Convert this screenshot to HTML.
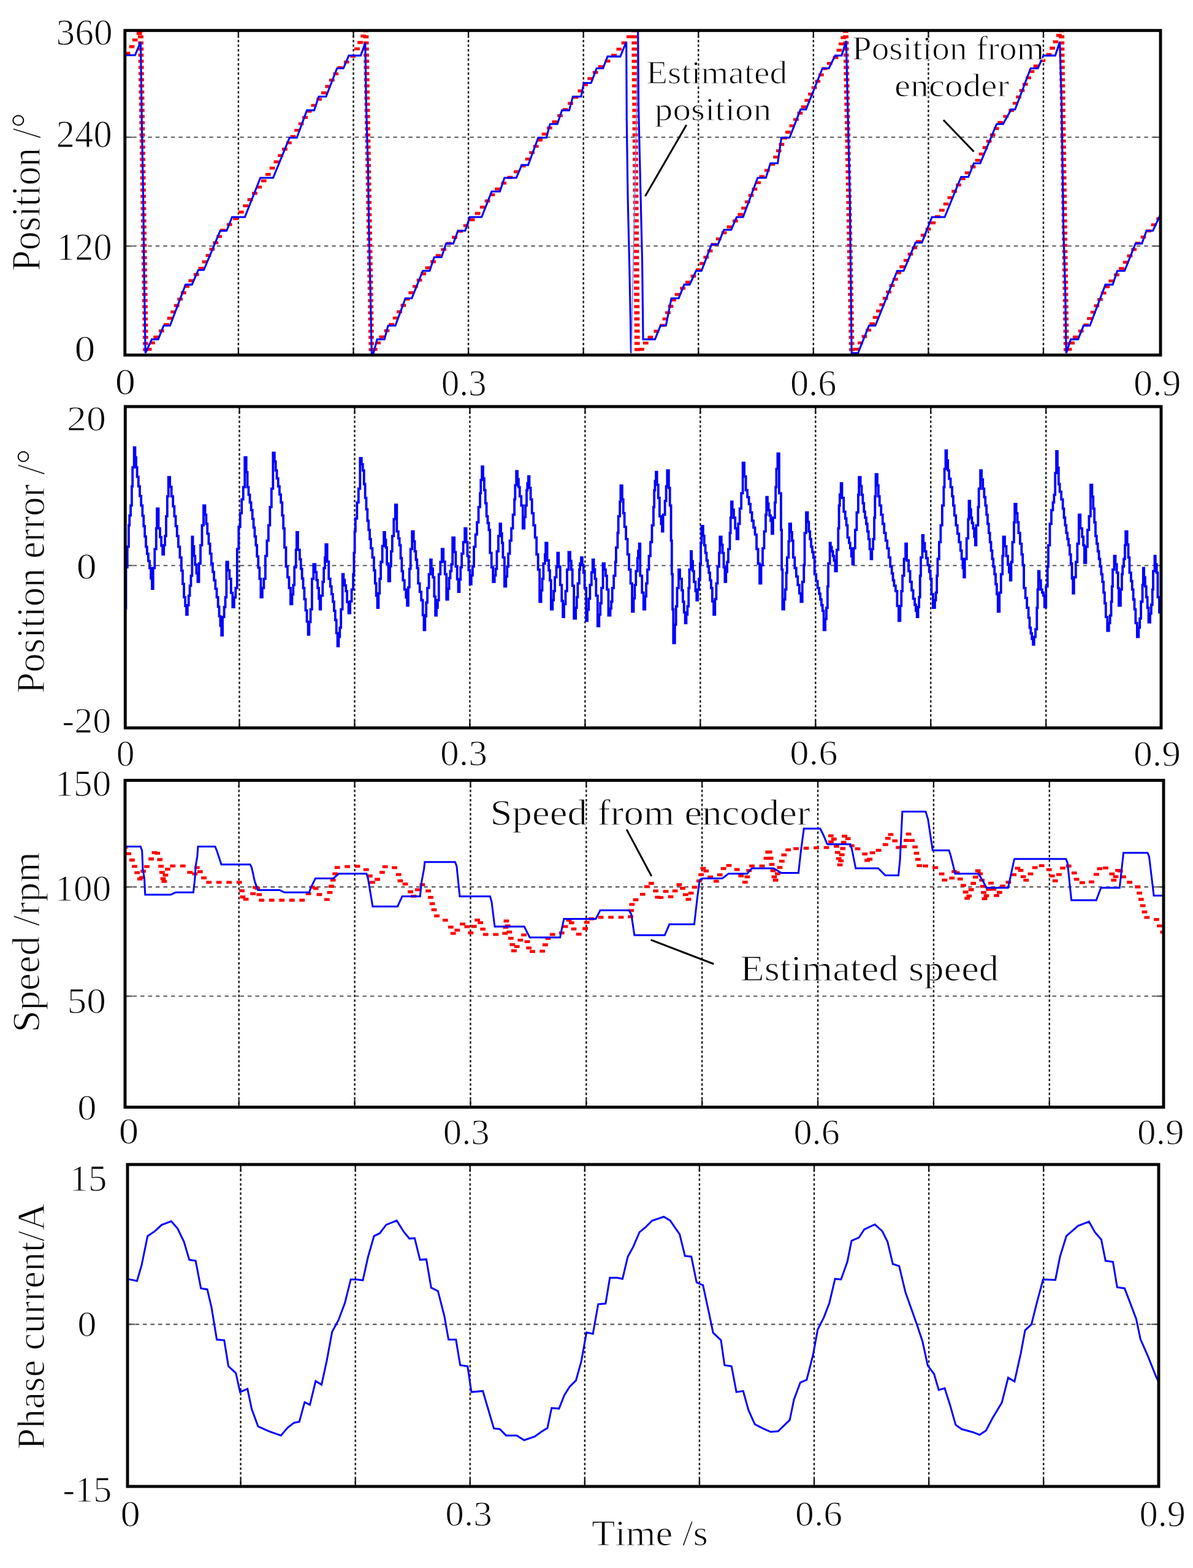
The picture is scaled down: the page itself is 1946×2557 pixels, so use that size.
<!DOCTYPE html>
<html><head><meta charset="utf-8"><title>Figure</title><style>
html,body{margin:0;padding:0;background:#fff;}
svg{display:block;}
text{font-family:"Liberation Serif",serif;font-size:100px;fill:#000;stroke:#fff;font-kerning:none;font-variant-ligatures:none;}
.gv{stroke:#1a1a1a;stroke-width:2.4;stroke-dasharray:4 3.6;fill:none;}
.tk{stroke:#111;stroke-width:2.2;}
.tkh{stroke:#555;stroke-width:2.2;}
.gh{stroke:#5a5a5a;stroke-width:2.1;stroke-dasharray:6.5 6;fill:none;}
.fr{fill:none;stroke:#000;stroke-width:4.9;}
.bl{fill:none;stroke:#0000ff;stroke-width:3.6;stroke-linejoin:miter;stroke-miterlimit:3;}
.b0{stroke-width:3.1;}.b1{stroke-width:3.8;}.b2{stroke-width:3.0;}.b3{stroke-width:3.0;}
.jp{fill:none;stroke:#7f7fff;stroke-width:1.6;}
.rdd{fill:none;stroke:#ff0000;stroke-width:4.8;}
.ld{stroke:#000;stroke-width:3;}
</style></head>
<body><svg width="1946" height="2557" viewBox="0 0 1946 2557">
<defs><clipPath id="c0"><rect x="203.8" y="49.7" width="1689.2" height="529.3"/></clipPath><clipPath id="c1"><rect x="204.3" y="663" width="1689.7" height="524"/></clipPath><clipPath id="c2"><rect x="204" y="1272.5" width="1694" height="533"/></clipPath><clipPath id="c3"><rect x="208" y="1899" width="1682" height="525"/></clipPath></defs>
<rect width="1946" height="2557" fill="#fff"/>
<line class="gv" x1="388.9" y1="49.7" x2="388.9" y2="579"/>
<line class="gv" x1="576.49" y1="49.7" x2="576.49" y2="579"/>
<line class="gv" x1="764.07" y1="49.7" x2="764.07" y2="579"/>
<line class="gv" x1="951.66" y1="49.7" x2="951.66" y2="579"/>
<line class="gv" x1="1139.24" y1="49.7" x2="1139.24" y2="579"/>
<line class="gv" x1="1326.83" y1="49.7" x2="1326.83" y2="579"/>
<line class="gv" x1="1514.41" y1="49.7" x2="1514.41" y2="579"/>
<line class="gv" x1="1702" y1="49.7" x2="1702" y2="579"/>
<line class="gh" x1="203.8" y1="223.8" x2="1893" y2="223.8"/>
<line class="gh" x1="203.8" y1="401.3" x2="1893" y2="401.3"/>
<line class="tk" x1="388.9" y1="579" x2="388.9" y2="567"/>
<line class="tk" x1="388.9" y1="49.7" x2="388.9" y2="61.7"/>
<line class="tk" x1="576.49" y1="579" x2="576.49" y2="567"/>
<line class="tk" x1="576.49" y1="49.7" x2="576.49" y2="61.7"/>
<line class="tk" x1="764.07" y1="579" x2="764.07" y2="567"/>
<line class="tk" x1="764.07" y1="49.7" x2="764.07" y2="61.7"/>
<line class="tk" x1="951.66" y1="579" x2="951.66" y2="567"/>
<line class="tk" x1="951.66" y1="49.7" x2="951.66" y2="61.7"/>
<line class="tk" x1="1139.24" y1="579" x2="1139.24" y2="567"/>
<line class="tk" x1="1139.24" y1="49.7" x2="1139.24" y2="61.7"/>
<line class="tk" x1="1326.83" y1="579" x2="1326.83" y2="567"/>
<line class="tk" x1="1326.83" y1="49.7" x2="1326.83" y2="61.7"/>
<line class="tk" x1="1514.41" y1="579" x2="1514.41" y2="567"/>
<line class="tk" x1="1514.41" y1="49.7" x2="1514.41" y2="61.7"/>
<line class="tk" x1="1702" y1="579" x2="1702" y2="567"/>
<line class="tk" x1="1702" y1="49.7" x2="1702" y2="61.7"/>
<line class="tkh" x1="203.8" y1="223.8" x2="215.8" y2="223.8"/>
<line class="tkh" x1="1893" y1="223.8" x2="1881" y2="223.8"/>
<line class="tkh" x1="203.8" y1="401.3" x2="215.8" y2="401.3"/>
<line class="tkh" x1="1893" y1="401.3" x2="1881" y2="401.3"/>
<line class="gv" x1="390.5" y1="663" x2="390.5" y2="1187"/>
<line class="gv" x1="578.46" y1="663" x2="578.46" y2="1187"/>
<line class="gv" x1="766.41" y1="663" x2="766.41" y2="1187"/>
<line class="gv" x1="954.37" y1="663" x2="954.37" y2="1187"/>
<line class="gv" x1="1142.33" y1="663" x2="1142.33" y2="1187"/>
<line class="gv" x1="1330.29" y1="663" x2="1330.29" y2="1187"/>
<line class="gv" x1="1518.24" y1="663" x2="1518.24" y2="1187"/>
<line class="gv" x1="1706.2" y1="663" x2="1706.2" y2="1187"/>
<line class="gh" x1="204.3" y1="922.2" x2="1894" y2="922.2"/>
<line class="tk" x1="390.5" y1="1187" x2="390.5" y2="1175"/>
<line class="tk" x1="390.5" y1="663" x2="390.5" y2="675"/>
<line class="tk" x1="578.46" y1="1187" x2="578.46" y2="1175"/>
<line class="tk" x1="578.46" y1="663" x2="578.46" y2="675"/>
<line class="tk" x1="766.41" y1="1187" x2="766.41" y2="1175"/>
<line class="tk" x1="766.41" y1="663" x2="766.41" y2="675"/>
<line class="tk" x1="954.37" y1="1187" x2="954.37" y2="1175"/>
<line class="tk" x1="954.37" y1="663" x2="954.37" y2="675"/>
<line class="tk" x1="1142.33" y1="1187" x2="1142.33" y2="1175"/>
<line class="tk" x1="1142.33" y1="663" x2="1142.33" y2="675"/>
<line class="tk" x1="1330.29" y1="1187" x2="1330.29" y2="1175"/>
<line class="tk" x1="1330.29" y1="663" x2="1330.29" y2="675"/>
<line class="tk" x1="1518.24" y1="1187" x2="1518.24" y2="1175"/>
<line class="tk" x1="1518.24" y1="663" x2="1518.24" y2="675"/>
<line class="tk" x1="1706.2" y1="1187" x2="1706.2" y2="1175"/>
<line class="tk" x1="1706.2" y1="663" x2="1706.2" y2="675"/>
<line class="tkh" x1="204.3" y1="922.2" x2="216.3" y2="922.2"/>
<line class="tkh" x1="1894" y1="922.2" x2="1882" y2="922.2"/>
<line class="gv" x1="389.7" y1="1272.5" x2="389.7" y2="1805.5"/>
<line class="gv" x1="578.57" y1="1272.5" x2="578.57" y2="1805.5"/>
<line class="gv" x1="767.44" y1="1272.5" x2="767.44" y2="1805.5"/>
<line class="gv" x1="956.31" y1="1272.5" x2="956.31" y2="1805.5"/>
<line class="gv" x1="1145.19" y1="1272.5" x2="1145.19" y2="1805.5"/>
<line class="gv" x1="1334.06" y1="1272.5" x2="1334.06" y2="1805.5"/>
<line class="gv" x1="1522.93" y1="1272.5" x2="1522.93" y2="1805.5"/>
<line class="gv" x1="1711.8" y1="1272.5" x2="1711.8" y2="1805.5"/>
<line class="gh" x1="204" y1="1446.4" x2="1898" y2="1446.4"/>
<line class="gh" x1="204" y1="1624.5" x2="1898" y2="1624.5"/>
<line class="tk" x1="389.7" y1="1805.5" x2="389.7" y2="1793.5"/>
<line class="tk" x1="389.7" y1="1272.5" x2="389.7" y2="1284.5"/>
<line class="tk" x1="578.57" y1="1805.5" x2="578.57" y2="1793.5"/>
<line class="tk" x1="578.57" y1="1272.5" x2="578.57" y2="1284.5"/>
<line class="tk" x1="767.44" y1="1805.5" x2="767.44" y2="1793.5"/>
<line class="tk" x1="767.44" y1="1272.5" x2="767.44" y2="1284.5"/>
<line class="tk" x1="956.31" y1="1805.5" x2="956.31" y2="1793.5"/>
<line class="tk" x1="956.31" y1="1272.5" x2="956.31" y2="1284.5"/>
<line class="tk" x1="1145.19" y1="1805.5" x2="1145.19" y2="1793.5"/>
<line class="tk" x1="1145.19" y1="1272.5" x2="1145.19" y2="1284.5"/>
<line class="tk" x1="1334.06" y1="1805.5" x2="1334.06" y2="1793.5"/>
<line class="tk" x1="1334.06" y1="1272.5" x2="1334.06" y2="1284.5"/>
<line class="tk" x1="1522.93" y1="1805.5" x2="1522.93" y2="1793.5"/>
<line class="tk" x1="1522.93" y1="1272.5" x2="1522.93" y2="1284.5"/>
<line class="tk" x1="1711.8" y1="1805.5" x2="1711.8" y2="1793.5"/>
<line class="tk" x1="1711.8" y1="1272.5" x2="1711.8" y2="1284.5"/>
<line class="tkh" x1="204" y1="1446.4" x2="216" y2="1446.4"/>
<line class="tkh" x1="1898" y1="1446.4" x2="1886" y2="1446.4"/>
<line class="tkh" x1="204" y1="1624.5" x2="216" y2="1624.5"/>
<line class="tkh" x1="1898" y1="1624.5" x2="1886" y2="1624.5"/>
<line class="gv" x1="392.6" y1="1899" x2="392.6" y2="2424"/>
<line class="gv" x1="579.69" y1="1899" x2="579.69" y2="2424"/>
<line class="gv" x1="766.77" y1="1899" x2="766.77" y2="2424"/>
<line class="gv" x1="953.86" y1="1899" x2="953.86" y2="2424"/>
<line class="gv" x1="1140.94" y1="1899" x2="1140.94" y2="2424"/>
<line class="gv" x1="1328.03" y1="1899" x2="1328.03" y2="2424"/>
<line class="gv" x1="1515.11" y1="1899" x2="1515.11" y2="2424"/>
<line class="gv" x1="1702.2" y1="1899" x2="1702.2" y2="2424"/>
<line class="gh" x1="208" y1="2159.6" x2="1890" y2="2159.6"/>
<line class="tk" x1="392.6" y1="2424" x2="392.6" y2="2412"/>
<line class="tk" x1="392.6" y1="1899" x2="392.6" y2="1911"/>
<line class="tk" x1="579.69" y1="2424" x2="579.69" y2="2412"/>
<line class="tk" x1="579.69" y1="1899" x2="579.69" y2="1911"/>
<line class="tk" x1="766.77" y1="2424" x2="766.77" y2="2412"/>
<line class="tk" x1="766.77" y1="1899" x2="766.77" y2="1911"/>
<line class="tk" x1="953.86" y1="2424" x2="953.86" y2="2412"/>
<line class="tk" x1="953.86" y1="1899" x2="953.86" y2="1911"/>
<line class="tk" x1="1140.94" y1="2424" x2="1140.94" y2="2412"/>
<line class="tk" x1="1140.94" y1="1899" x2="1140.94" y2="1911"/>
<line class="tk" x1="1328.03" y1="2424" x2="1328.03" y2="2412"/>
<line class="tk" x1="1328.03" y1="1899" x2="1328.03" y2="1911"/>
<line class="tk" x1="1515.11" y1="2424" x2="1515.11" y2="2412"/>
<line class="tk" x1="1515.11" y1="1899" x2="1515.11" y2="1911"/>
<line class="tk" x1="1702.2" y1="2424" x2="1702.2" y2="2412"/>
<line class="tk" x1="1702.2" y1="1899" x2="1702.2" y2="1911"/>
<line class="tkh" x1="208" y1="2159.6" x2="220" y2="2159.6"/>
<line class="tkh" x1="1890" y1="2159.6" x2="1878" y2="2159.6"/>
<path class="rdd" d="M195.6 97h8.8M203.65 86.9h8.8M210.59 76.01h8.8M215.8 65.07h8.8M222.77 54.48h8.8" clip-path="url(#c0)"/>
<path class="rdd" d="M224.9 50h8.8M225.06 60h8.8M225.22 70h8.8M225.38 80h8.8M225.54 90h8.8M225.7 100h8.8M225.86 110.01h8.8M226.02 120.01h8.8M226.18 130.01h8.8M226.34 140.01h8.8M226.5 150.01h8.8M226.66 160.01h8.8M226.82 170.01h8.8M226.99 180.01h8.8M227.15 190.01h8.8M227.31 200.01h8.8M227.47 210.01h8.8M227.63 220.02h8.8M227.79 230.02h8.8M227.95 240.02h8.8M228.11 250.02h8.8M228.27 260.02h8.8M228.43 270.02h8.8M228.59 280.02h8.8M228.75 290.02h8.8M228.91 300.02h8.8M229.07 310.02h8.8M229.23 320.03h8.8M229.39 330.03h8.8M229.55 340.03h8.8M229.71 350.03h8.8M229.87 360.03h8.8M230.03 370.03h8.8M230.19 380.03h8.8M230.35 390.03h8.8M230.51 400.03h8.8M230.67 410.03h8.8M230.83 420.03h8.8M230.99 430.04h8.8M231.16 440.04h8.8M231.32 450.04h8.8M231.48 460.04h8.8M231.64 470.04h8.8M231.8 480.04h8.8M231.96 490.04h8.8M232.12 500.04h8.8M232.28 510.04h8.8M232.44 520.04h8.8M232.6 530.04h8.8M232.76 540.05h8.8M232.92 550.05h8.8M233.08 560.05h8.8M233.24 570.05h8.8M233.42 579.96h8.8M238.7 569.58h8.8M243.97 559.21h8.8M250.27 549.53h8.8M258.91 539.57h8.8M267.19 529.36h8.8M272.72 518.99h8.8M278.25 508.62h8.8M283.78 498.25h8.8M289.31 487.88h8.8M294.84 477.5h8.8M300.37 467.13h8.8M307.35 457.75h8.8M315.8 447.73h8.8M323.75 437.37h8.8M329.65 427.01h8.8M335.55 416.64h8.8M341.46 406.28h8.8M347.36 395.92h8.8M353.26 385.56h8.8M359.48 375.45h8.8M369.8 366.07h8.8M380.11 356.7h8.8M388.89 345.95h8.8M396.26 335.72h8.8M403.63 325.49h8.8M411 315.27h8.8M418.37 305.04h8.8M425.75 294.82h8.8M432.89 284.43h8.8M439.68 274.13h8.8M446.46 263.83h8.8M453.25 253.53h8.8M460.04 243.24h8.8M466.83 232.94h8.8M473.58 222.61h8.8M480.12 212.29h8.8M486.66 201.97h8.8M493.2 191.64h8.8M499.74 181.32h8.8M507.53 171.94h8.8M516.17 161.97h8.8M523.91 151.34h8.8M530.4 141.01h8.8M536.9 130.68h8.8M543.39 120.36h8.8M550.25 110.34h8.8M560.83 101.09h8.8M571.41 91.83h8.8M578.11 79.63h8.8M583.11 69.26h8.8M588.11 58.89h8.8" clip-path="url(#c0)"/>
<path class="rdd" d="M592.4 50h8.8M592.57 60h8.8M592.75 70h8.8M592.92 80h8.8M593.09 90h8.8M593.27 100.01h8.8M593.44 110.01h8.8M593.62 120.01h8.8M593.79 130.01h8.8M593.96 140.01h8.8M594.14 150.01h8.8M594.31 160.01h8.8M594.48 170.01h8.8M594.66 180.01h8.8M594.83 190.02h8.8M595 200.02h8.8M595.18 210.02h8.8M595.35 220.02h8.8M595.52 230.02h8.8M595.7 240.02h8.8M595.87 250.02h8.8M596.05 260.02h8.8M596.22 270.02h8.8M596.39 280.03h8.8M596.57 290.03h8.8M596.74 300.03h8.8M596.91 310.03h8.8M597.09 320.03h8.8M597.26 330.03h8.8M597.43 340.03h8.8M597.61 350.03h8.8M597.78 360.03h8.8M597.96 370.03h8.8M598.13 380.04h8.8M598.3 390.04h8.8M598.48 400.04h8.8M598.65 410.04h8.8M598.82 420.04h8.8M599 430.04h8.8M599.17 440.04h8.8M599.34 450.04h8.8M599.52 460.04h8.8M599.69 470.05h8.8M599.86 480.05h8.8M600.04 490.05h8.8M600.21 500.05h8.8M600.39 510.05h8.8M600.56 520.05h8.8M600.73 530.05h8.8M600.91 540.05h8.8M601.08 550.05h8.8M601.25 560.06h8.8M601.43 570.06h8.8M601.63 579.95h8.8M606.94 569.58h8.8M612.25 559.2h8.8M618.43 549.39h8.8M626.51 539.29h8.8M634.35 529.03h8.8M640.72 518.69h8.8M647.1 508.36h8.8M653.47 498.02h8.8M659.84 487.68h8.8M666.39 477.45h8.8M673.01 467.14h8.8M679.64 456.82h8.8M686.27 446.51h8.8M693.62 436.73h8.8M702.14 426.73h8.8M710.68 416.75h8.8M719.31 406.79h8.8M727.96 396.83h8.8M737.08 387.01h8.8M746.2 377.18h8.8M755.79 367.82h8.8M765.67 358.26h8.8M774.78 348.01h8.8M782.74 337.88h8.8M790.69 327.76h8.8M798.64 317.64h8.8M807.28 308.14h8.8M817.38 298.67h8.8M827.51 289.23h8.8M838.09 279.98h8.8M848.66 270.72h8.8M856.7 259.28h8.8M863.24 248.96h8.8M869.77 238.64h8.8M876.31 228.32h8.8M883.66 218.58h8.8M892.02 208.55h8.8M900.46 198.58h8.8M909.09 188.61h8.8M917.7 178.63h8.8M926.07 168.59h8.8M934.43 158.56h8.8M942.42 148.23h8.8M950.2 138.07h8.8M958.32 128.19h8.8M966.77 118.17h8.8M975.74 108.68h8.8M986.61 99.57h8.8M997.14 90.12h8.8M1005.4 80.07h8.8M1013.66 70.01h8.8M1021.92 59.95h8.8" clip-path="url(#c0)"/>
<path class="rdd" d="M1030.1 50h8.8M1030.19 60h8.8M1030.29 70h8.8M1030.38 80h8.8M1030.48 90h8.8M1030.57 100h8.8M1030.67 110h8.8M1030.76 120h8.8M1030.85 130h8.8M1030.95 140h8.8M1031.04 150h8.8M1031.14 160h8.8M1031.23 170h8.8M1031.33 180h8.8M1031.42 190h8.8M1031.52 200h8.8M1031.61 210.01h8.8M1031.7 220.01h8.8M1031.8 230.01h8.8M1031.89 240.01h8.8M1031.99 250.01h8.8M1032.08 260.01h8.8M1032.18 270.01h8.8M1032.27 280.01h8.8M1032.36 290.01h8.8M1032.46 300.01h8.8M1032.55 310.01h8.8M1032.65 320.01h8.8M1032.74 330.01h8.8M1032.84 340.01h8.8M1032.93 350.01h8.8M1033.02 360.01h8.8M1033.12 370.01h8.8M1033.21 380.01h8.8M1033.31 390.01h8.8M1033.4 400.01h8.8M1033.5 410.01h8.8M1033.59 420.01h8.8M1033.69 430.01h8.8M1033.78 440.01h8.8M1033.87 450.01h8.8M1033.97 460.01h8.8M1034.06 470.01h8.8M1034.16 480.01h8.8M1034.25 490.01h8.8M1034.35 500.01h8.8M1034.44 510.01h8.8M1034.53 520.02h8.8M1034.63 530.02h8.8M1034.72 540.02h8.8M1034.82 550.02h8.8M1034.91 560.02h8.8M1035.01 570.02h8.8M1035.11 579.99h8.8M1041.96 569.69h8.8M1048.82 559.4h8.8M1056.52 549.81h8.8M1066.4 540.25h8.8M1076.1 530.57h8.8M1080.59 520.22h8.8M1085.07 509.87h8.8M1089.56 499.52h8.8M1094.04 489.18h8.8M1100.66 480.17h8.8M1109.29 470.2h8.8M1117.93 460.24h8.8M1126.57 450.27h8.8M1134.93 440.11h8.8M1141.17 429.77h8.8M1147.42 419.42h8.8M1153.66 409.08h8.8M1159.9 398.73h8.8M1167.86 389.64h8.8M1176.59 379.7h8.8M1185.56 369.98h8.8M1194.95 360.24h8.8M1203.34 349.76h8.8M1209.12 339.39h8.8M1214.91 329.03h8.8M1220.69 318.66h8.8M1226.48 308.3h8.8M1232.26 297.93h8.8M1238.49 287.87h8.8M1246.94 277.86h8.8M1255.38 267.84h8.8M1261.24 256.2h8.8M1265.86 245.85h8.8M1270.48 235.49h8.8M1275.11 225.13h8.8M1281.06 215.49h8.8M1287.56 205.16h8.8M1294.05 194.84h8.8M1300.55 184.51h8.8M1306.78 174.03h8.8M1312.42 163.66h8.8M1318.07 153.29h8.8M1323.71 142.92h8.8M1329.36 132.55h8.8M1335 122.18h8.8M1340.65 111.81h8.8M1348.9 103.39h8.8M1358.54 93.74h8.8M1364.57 81.87h8.8M1367.97 71.6h8.8M1371.36 61.33h8.8M1374.75 51.06h8.8" clip-path="url(#c0)"/>
<path class="rdd" d="M1375.1 50h8.8M1375.29 60h8.8M1375.48 70h8.8M1375.67 80h8.8M1375.85 90.01h8.8M1376.04 100.01h8.8M1376.23 110.01h8.8M1376.42 120.01h8.8M1376.61 130.01h8.8M1376.8 140.01h8.8M1376.99 150.01h8.8M1377.18 160.01h8.8M1377.36 170.02h8.8M1377.55 180.02h8.8M1377.74 190.02h8.8M1377.93 200.02h8.8M1378.12 210.02h8.8M1378.31 220.02h8.8M1378.5 230.02h8.8M1378.69 240.02h8.8M1378.87 250.03h8.8M1379.06 260.03h8.8M1379.25 270.03h8.8M1379.44 280.03h8.8M1379.63 290.03h8.8M1379.82 300.03h8.8M1380.01 310.03h8.8M1380.19 320.03h8.8M1380.38 330.04h8.8M1380.57 340.04h8.8M1380.76 350.04h8.8M1380.95 360.04h8.8M1381.14 370.04h8.8M1381.33 380.04h8.8M1381.52 390.04h8.8M1381.7 400.04h8.8M1381.89 410.05h8.8M1382.08 420.05h8.8M1382.27 430.05h8.8M1382.46 440.05h8.8M1382.65 450.05h8.8M1382.84 460.05h8.8M1383.03 470.05h8.8M1383.21 480.06h8.8M1383.4 490.06h8.8M1383.59 500.06h8.8M1383.78 510.06h8.8M1383.97 520.06h8.8M1384.16 530.06h8.8M1384.35 540.06h8.8M1384.54 550.06h8.8M1384.72 560.07h8.8M1384.91 570.07h8.8M1385.14 579.95h8.8M1392.48 569.38h8.8M1399.02 559.06h8.8M1405.56 548.74h8.8M1412.1 538.41h8.8M1418.37 527.94h8.8M1423.73 517.56h8.8M1429.09 507.19h8.8M1434.44 496.82h8.8M1439.8 486.45h8.8M1445.16 476.08h8.8M1450.52 465.71h8.8M1455.88 455.33h8.8M1461.24 444.96h8.8M1467.27 434.98h8.8M1473.92 424.67h8.8M1480.58 414.35h8.8M1487.23 404.04h8.8M1494.04 393.84h8.8M1501.84 383.68h8.8M1509.63 373.53h8.8M1517.43 363.37h8.8M1525.17 353.18h8.8M1531.96 342.88h8.8M1538.75 332.58h8.8M1545.53 322.28h8.8M1552.32 311.98h8.8M1559.11 301.68h8.8M1565.9 291.38h8.8M1573.74 281.9h8.8M1582.65 272.01h8.8M1590.64 261.45h8.8M1596.66 251.09h8.8M1602.68 240.74h8.8M1608.7 230.38h8.8M1614.72 220.02h8.8M1620.74 209.67h8.8M1627.34 199.73h8.8M1636.33 189.87h8.8M1645.33 180.01h8.8M1651.9 168.46h8.8M1657.22 158.09h8.8M1662.55 147.71h8.8M1667.87 137.34h8.8M1673.19 126.97h8.8M1678.52 116.6h8.8M1685.63 107.65h8.8M1696.42 98.49h8.8M1706.63 88.88h8.8M1712.09 78.51h8.8M1717.55 68.13h8.8M1723.01 57.76h8.8" clip-path="url(#c0)"/>
<path class="rdd" d="M1727.1 50h8.8M1727.25 60h8.8M1727.4 70h8.8M1727.55 80h8.8M1727.7 90h8.8M1727.85 100h8.8M1728.01 110h8.8M1728.16 120.01h8.8M1728.31 130.01h8.8M1728.46 140.01h8.8M1728.61 150.01h8.8M1728.76 160.01h8.8M1728.91 170.01h8.8M1729.06 180.01h8.8M1729.21 190.01h8.8M1729.36 200.01h8.8M1729.52 210.01h8.8M1729.67 220.01h8.8M1729.82 230.01h8.8M1729.97 240.02h8.8M1730.12 250.02h8.8M1730.27 260.02h8.8M1730.42 270.02h8.8M1730.57 280.02h8.8M1730.72 290.02h8.8M1730.87 300.02h8.8M1731.02 310.02h8.8M1731.18 320.02h8.8M1731.33 330.02h8.8M1731.48 340.02h8.8M1731.63 350.02h8.8M1731.78 360.03h8.8M1731.93 370.03h8.8M1732.08 380.03h8.8M1732.23 390.03h8.8M1732.38 400.03h8.8M1732.53 410.03h8.8M1732.69 420.03h8.8M1732.84 430.03h8.8M1732.99 440.03h8.8M1733.14 450.03h8.8M1733.29 460.03h8.8M1733.44 470.03h8.8M1733.59 480.04h8.8M1733.74 490.04h8.8M1733.89 500.04h8.8M1734.04 510.04h8.8M1734.19 520.04h8.8M1734.35 530.04h8.8M1734.5 540.04h8.8M1734.65 550.04h8.8M1734.8 560.04h8.8M1734.95 570.04h8.8M1735.12 579.96h8.8M1739.61 569.61h8.8M1744.1 559.26h8.8M1749.92 549.76h8.8M1758.82 539.87h8.8M1767.44 529.78h8.8M1773.09 519.41h8.8M1778.73 509.04h8.8M1784.38 498.67h8.8M1790.02 488.3h8.8M1795.67 477.93h8.8M1801.31 467.57h8.8M1808.35 458.16h8.8M1816.98 448.2h8.8M1825.1 437.84h8.8M1831.8 427.53h8.8M1838.5 417.23h8.8M1845.21 406.92h8.8M1851.97 396.66h8.8M1860.53 386.67h8.8M1869.09 376.69h8.8M1877.65 366.7h8.8M1886.21 356.72h8.8M1894.77 346.73h8.8" clip-path="url(#c0)"/>
<polyline class="bl b0" points="200,90 220.24,90 229.46,68.27 231.25,194.76 233.63,321.25 235.12,447.74 237.2,575.71 247.62,553.39 258.04,553.39 266.96,531.07 277.38,531.07 302.68,464.11 313.1,464.11 323.51,440.3 332.44,440.3 359.23,376.31 369.64,376.31 378.57,353.99 399.4,353.99 424.7,290 445.54,290 472.32,224.52 484.23,224.52 500.6,179.88 512.5,179.88 519.94,157.56 531.85,157.56 549.7,111.43 560.12,111.43 569.05,90.6 588.39,90.6 595.83,69.76 597.32,170.95 600.3,272.14 601.79,373.33 604.17,474.52 606.25,575.71 609.23,575.71 615.18,553.39 627.08,553.39 633.04,531.07 644.94,531.07 661.31,486.43 671.73,486.43 689.58,441.79 700.83,441.79 708.27,419.46 720.18,419.46 727.62,397.14 739.52,397.14 746.96,376.31 758.87,376.31 766.31,353.99 785.65,353.99 802.02,312.32 815.42,312.32 822.86,290 842.2,290 851.13,269.17 861.55,269.17 877.92,224.52 891.31,224.52 897.26,202.2 909.17,202.2 916.61,179.88 928.51,179.88 934.46,157.56 947.86,157.56 952.32,135.24 964.23,135.24 973.15,111.43 983.57,111.43 991.01,92.08 1011.85,92.08 1021.67,68.27 1022.26,194.76 1024.05,321.25 1027.02,449.23 1029.4,575.71" clip-path="url(#c0)"/>
<polyline class="jp" points="1030,575.71 1032.98,423.93 1035.95,301.9 1040.71,51.9" clip-path="url(#c0)"/>
<polyline class="bl b0" points="1040.71,51.9 1041.61,175.42 1044.58,301.9 1047.56,426.9 1049.05,553.39 1068.39,553.39 1077.32,531.07 1086.25,531.07 1095.18,486.43 1107.08,486.43 1116.01,464.11 1124.94,464.11 1135.36,441.79 1144.29,441.79 1160.65,398.63 1171.07,398.63 1180.83,374.82 1192.74,374.82 1201.67,353.99 1212.08,353.99 1235.89,290 1249.29,290 1256.73,266.19 1268.63,266.19 1274.58,224.52 1287.98,224.52 1305.83,178.39 1314.76,178.39 1341.55,111.43 1351.96,111.43 1362.38,90.6 1372.8,90.6 1380.24,66.79 1383.21,194.76 1386.19,321.25 1387.68,449.23 1389.17,575.71 1399.58,575.71 1417.44,531.07 1427.86,531.07 1463.57,441.79 1473.99,441.79 1493.33,395.65 1503.75,395.65 1520.12,353.99 1540.95,353.99 1567.74,288.51 1579.64,288.51 1588.57,266.19 1598.99,266.19 1625.77,202.2 1636.19,202.2 1649.58,178.39 1655.82,178.39 1681.12,111.43 1693.02,111.43 1701.95,90.6 1721.3,90.6 1728.74,68.27 1731.71,170.95 1733.2,272.14 1734.69,373.33 1737.67,474.52 1739.15,575.71 1746.6,553.39 1758.5,553.39 1767.43,531.07 1777.85,531.07 1803.14,464.11 1815.05,464.11 1822.49,441.79 1834.39,441.79 1852.25,397.14 1862.67,397.14 1870.11,376.31 1880.52,376.31 1892.43,351.01" clip-path="url(#c0)"/>
<polyline class="bl b1" points="205.48,993.71 205.48,958.84 205.48,958.84 205.48,925.22 207.72,925.22 207.72,891.59 209.96,891.59 209.96,856.72 211.21,856.72 211.21,840.54 213.08,840.54 213.08,824.35 214.94,824.35 214.94,793.21 216.19,793.21 216.19,762.08 218.68,762.08 218.68,729.7 220.42,729.7 220.42,745.89 222.04,745.89 222.04,762.08 223.66,762.08 223.66,777.65 225.84,777.65 225.84,793.21 228.02,793.21 228.02,808.78 230.2,808.78 230.2,824.35 232.38,824.35 232.38,841.16 234.25,841.16 234.25,857.97 236.11,857.97 236.11,874.78 237.98,874.78 237.98,891.59 239.85,891.59 239.85,903.22 241.93,903.22 241.93,914.84 244,914.84 244,926.46 246.08,926.46 246.08,943.28 247.95,943.28 247.95,960.09 249.81,960.09 249.81,926.46 252.3,926.46 252.3,895.33 254.79,895.33 254.79,861.71 256.04,861.71 256.04,829.33 258.53,829.33 258.53,861.71 261.02,861.71 261.02,875.82 263.1,875.82 263.1,889.93 265.17,889.93 265.17,904.05 267.25,904.05 267.25,889.1 269.12,889.1 269.12,874.16 270.98,874.16 270.98,841.78 272.85,841.78 272.85,809.4 274.72,809.4 274.72,778.27 277.21,778.27 277.21,793.84 279.7,793.84 279.7,809.4 282.19,809.4 282.19,825.59 284.37,825.59 284.37,841.78 286.55,841.78 286.55,857.97 288.73,857.97 288.73,874.16 290.91,874.16 290.91,891.59 293.4,891.59 293.4,909.03 295.89,909.03 295.89,930.61 297.97,930.61 297.97,952.2 300.04,952.2 300.04,973.79 302.12,973.79 302.12,988.11 303.99,988.11 303.99,1002.43 305.85,1002.43 305.85,986.86 307.72,986.86 307.72,971.3 309.59,971.3 309.59,955.11 311.46,955.11 311.46,938.92 313.33,938.92 313.33,875.4 314.57,875.4 314.57,890.97 316.44,890.97 316.44,906.54 318.31,906.54 318.31,920.65 320.38,920.65 320.38,934.77 322.46,934.77 322.46,948.88 324.53,948.88 324.53,918.99 327.02,918.99 327.02,889.1 329.51,889.1 329.51,856.72 332,856.72 332,824.35 334.5,824.35 334.5,839.29 336.36,839.29 336.36,854.23 338.23,854.23 338.23,870.42 340.41,870.42 340.41,886.61 342.59,886.61 342.59,902.8 344.77,902.8 344.77,918.99 346.95,918.99 346.95,932.69 349.13,932.69 349.13,946.39 351.31,946.39 351.31,960.09 353.49,960.09 353.49,973.79 355.67,973.79 355.67,989.35 357.53,989.35 357.53,1004.92 359.4,1004.92 359.4,1020.49 361.27,1020.49 361.27,1036.05 363.14,1036.05 363.14,1006.16 365.63,1006.16 365.63,989.98 367.5,989.98 367.5,973.79 369.36,973.79 369.36,916.5 371.86,916.5 371.86,930.2 374.35,930.2 374.35,943.9 376.84,943.9 376.84,966.94 379.33,966.94 379.33,989.98 381.82,989.98 381.82,974.41 384.31,974.41 384.31,958.84 386.8,958.84 386.8,895.33 389.29,895.33 389.29,859.22 391.78,859.22 391.78,836.8 394.27,836.8 394.27,814.38 396.76,814.38 396.76,794.46 399.25,794.46 399.25,745.89 401.74,745.89 401.74,770.17 403.61,770.17 403.61,794.46 405.48,794.46 405.48,806.91 407.56,806.91 407.56,819.36 409.63,819.36 409.63,831.82 411.71,831.82 411.71,846.14 413.57,846.14 413.57,860.46 415.44,860.46 415.44,874.78 417.31,874.78 417.31,889.1 419.18,889.1 419.18,907.37 421.25,907.37 421.25,925.63 423.33,925.63 423.33,943.9 425.4,943.9 425.4,973.79 427.9,973.79 427.9,958.84 430.39,958.84 430.39,943.9 432.88,943.9 432.88,906.54 435.37,906.54 435.37,881.63 437.86,881.63 437.86,856.72 440.35,856.72 440.35,826.84 442.84,826.84 442.84,796.95 445.33,796.95 445.33,738.42 447.82,738.42 447.82,752.74 449.69,752.74 449.69,767.06 451.56,767.06 451.56,780.14 453.74,780.14 453.74,793.21 455.92,793.21 455.92,806.29 458.09,806.29 458.09,819.36 460.27,819.36 460.27,840.54 462.14,840.54 462.14,861.71 464.01,861.71 464.01,892.84 466.5,892.84 466.5,923.97 468.99,923.97 468.99,941.41 471.48,941.41 471.48,958.84 473.97,958.84 473.97,984.99 476.46,984.99 476.46,969.43 478.33,969.43 478.33,953.86 480.2,953.86 480.2,925.22 482.69,925.22 482.69,896.58 483.94,896.58 483.94,867.93 485.93,867.93 485.93,896.58 488.92,896.58 488.92,912.14 490.78,912.14 490.78,927.71 492.65,927.71 492.65,943.28 494.52,943.28 494.52,958.84 496.39,958.84 496.39,977.11 498.46,977.11 498.46,995.37 500.54,995.37 500.54,1013.64 502.62,1013.64 502.62,1034.81 504.36,1034.81 504.36,1014.26 506.6,1014.26 506.6,993.71 508.84,993.71 508.84,943.9 511.33,943.9 511.33,920.24 514.32,920.24 514.32,933.11 516.23,933.11 516.23,945.97 518.14,945.97 518.14,958.84 520.05,958.84 520.05,976.28 521.67,976.28 521.67,993.71 523.29,993.71 523.29,971.3 526.28,971.3 526.28,948.88 528.14,948.88 528.14,926.46 530.01,926.46 530.01,909.03 531.26,909.03 531.26,887.86 533.75,887.86 533.75,915.88 536.24,915.88 536.24,943.9 538.73,943.9 538.73,956.35 540.81,956.35 540.81,968.8 542.88,968.8 542.88,981.26 544.96,981.26 544.96,996.2 546.82,996.2 546.82,1011.15 548.69,1011.15 548.69,1032.32 550.56,1032.32 550.56,1053.49 552.43,1053.49 552.43,1038.54 554.3,1038.54 554.3,1023.6 556.16,1023.6 556.16,993.71 558.66,993.71 558.66,936.43 560.4,936.43 560.4,945.56 562.31,945.56 562.31,954.69 564.22,954.69 564.22,963.82 566.13,963.82 566.13,981.88 568.62,981.88 568.62,999.94 571.11,999.94 571.11,980.64 573.6,980.64 573.6,961.33 576.09,961.33 576.09,936.43 577.33,936.43 577.33,901.56 578.58,901.56 578.58,866.69 579.83,866.69 579.83,845.52 582.32,845.52 582.32,819.36 584.81,819.36 584.81,796.95 587.3,796.95 587.3,747.14 589.79,747.14 589.79,757.1 591.76,757.1 591.76,767.06 593.74,767.06 593.74,789.48 595.6,789.48 595.6,811.89 597.47,811.89 597.47,830.57 599.34,830.57 599.34,849.25 601.21,849.25 601.21,864.2 603.08,864.2 603.08,879.14 604.94,879.14 604.94,894.08 607.43,894.08 607.43,909.03 609.93,909.03 609.93,930.2 611.79,930.2 611.79,951.37 613.66,951.37 613.66,971.3 615.53,971.3 615.53,991.22 617.4,991.22 617.4,967.56 619.27,967.56 619.27,943.9 621.13,943.9 621.13,916.5 623.62,916.5 623.62,890.35 626.11,890.35 626.11,867.93 627.86,867.93 627.86,880.39 629.48,880.39 629.48,892.84 631.1,892.84 631.1,918.99 633.59,918.99 633.59,947.63 636.08,947.63 636.08,923.35 637.95,923.35 637.95,899.07 639.81,899.07 639.81,874.16 642.3,874.16 642.3,846.76 644.79,846.76 644.79,823.1 647.29,823.1 647.29,866.69 649.78,866.69 649.78,877.9 651.64,877.9 651.64,889.1 653.51,889.1 653.51,910.27 655.38,910.27 655.38,931.44 657.25,931.44 657.25,946.39 659.74,946.39 659.74,961.33 662.23,961.33 662.23,974.41 664.1,974.41 664.1,987.48 665.97,987.48 665.97,957.6 667.83,957.6 667.83,927.71 669.7,927.71 669.7,895.33 672.19,895.33 672.19,866.69 674.68,866.69 674.68,882.88 676.55,882.88 676.55,899.07 678.42,899.07 678.42,912.76 680.29,912.76 680.29,926.46 682.15,926.46 682.15,951.37 684.65,951.37 684.65,965.07 687.14,965.07 687.14,978.77 689.63,978.77 689.63,1003.05 691.49,1003.05 691.49,1027.33 693.36,1027.33 693.36,1004.92 695.23,1004.92 695.23,982.5 697.1,982.5 697.1,958.84 699.59,958.84 699.59,936.43 702.08,936.43 702.08,912.76 703.82,912.76 703.82,927.09 706.06,927.09 706.06,941.41 708.31,941.41 708.31,972.54 710.17,972.54 710.17,1003.67 712.04,1003.67 712.04,991.22 713.91,991.22 713.91,978.77 715.78,978.77 715.78,936.43 718.27,936.43 718.27,916.5 720.76,916.5 720.76,895.33 723.25,895.33 723.25,915.88 725.74,915.88 725.74,936.43 728.23,936.43 728.23,977.52 730.72,977.52 730.72,960.09 732.59,960.09 732.59,942.65 734.46,942.65 734.46,931.44 736.33,931.44 736.33,920.24 738.19,920.24 738.19,876.65 741.18,876.65 741.18,900.31 743.42,900.31 743.42,923.97 745.67,923.97 745.67,944.52 747.53,944.52 747.53,965.07 749.4,965.07 749.4,945.14 751.27,945.14 751.27,925.22 753.14,925.22 753.14,902.8 755.63,902.8 755.63,884.12 758.12,884.12 758.12,861.71 760.61,861.71 760.61,884.12 762.48,884.12 762.48,906.54 764.35,906.54 764.35,929.58 766.59,929.58 766.59,952.62 768.83,952.62 768.83,938.29 770.95,938.29 770.95,923.97 773.06,923.97 773.06,891.59 775.55,891.59 775.55,871.67 778.04,871.67 778.04,851.74 780.54,851.74 780.54,826.84 783.03,826.84 783.03,804.42 784.27,804.42 784.27,782.63 786.14,782.63 786.14,760.83 788.01,760.83 788.01,780.14 789.88,780.14 789.88,799.44 791.74,799.44 791.74,820.61 793.61,820.61 793.61,841.78 795.48,841.78 795.48,852.99 797.35,852.99 797.35,864.2 799.22,864.2 799.22,901.56 801.71,901.56 801.71,925.22 804.2,925.22 804.2,948.88 806.69,948.88 806.69,938.29 808.56,938.29 808.56,927.71 810.42,927.71 810.42,899.07 812.91,899.07 812.91,874.16 815.4,874.16 815.4,854.23 817.15,854.23 817.15,869.8 818.77,869.8 818.77,885.37 820.39,885.37 820.39,909.03 822.88,909.03 822.88,956.35 825.37,956.35 825.37,940.16 827.24,940.16 827.24,923.97 829.1,923.97 829.1,902.8 831.59,902.8 831.59,881.63 834.08,881.63 834.08,861.71 836.58,861.71 836.58,839.29 839.07,839.29 839.07,814.38 840.31,814.38 840.31,791.34 842.18,791.34 842.18,768.31 844.05,768.31 844.05,781.38 845.92,781.38 845.92,794.46 847.78,794.46 847.78,809.4 850.27,809.4 850.27,824.35 852.76,824.35 852.76,861.71 855.26,861.71 855.26,843.03 857.12,843.03 857.12,824.35 858.99,824.35 858.99,799.44 860.24,799.44 860.24,788.23 861.86,788.23 861.86,777.02 863.47,777.02 863.47,795.7 865.59,795.7 865.59,814.38 867.71,814.38 867.71,836.8 870.2,836.8 870.2,856.72 872.69,856.72 872.69,876.65 875.18,876.65 875.18,904.05 877.67,904.05 877.67,928.95 880.16,928.95 880.16,981.26 882.65,981.26 882.65,962.58 884.52,962.58 884.52,943.9 886.39,943.9 886.39,918.99 888.88,918.99 888.88,904.05 890.12,904.05 890.12,885.37 892.62,885.37 892.62,914.01 895.11,914.01 895.11,930.2 896.97,930.2 896.97,946.39 898.84,946.39 898.84,993.71 901.33,993.71 901.33,978.77 903.2,978.77 903.2,963.82 905.07,963.82 905.07,941.41 907.56,941.41 907.56,925.22 909.3,925.22 909.3,901.56 911.3,901.56 911.3,923.97 913.79,923.97 913.79,953.86 916.28,953.86 916.28,980.01 918.14,980.01 918.14,1006.16 920.01,1006.16 920.01,984.99 922.5,984.99 922.5,963.82 924.99,963.82 924.99,928.95 927.48,928.95 927.48,900.31 929.98,900.31 929.98,914.63 931.84,914.63 931.84,928.95 933.71,928.95 933.71,955.11 936.2,955.11 936.2,1008.66 939.19,1008.66 939.19,991.22 940.81,991.22 940.81,973.79 942.43,973.79 942.43,951.37 944.92,951.37 944.92,928.95 946.16,928.95 946.16,918.99 948.03,918.99 948.03,909.03 949.9,909.03 949.9,921.48 951.77,921.48 951.77,933.94 953.64,933.94 953.64,958.84 956.13,958.84 956.13,1012.39 958.12,1012.39 958.12,994.33 960.24,994.33 960.24,976.28 962.35,976.28 962.35,953.86 964.84,953.86 964.84,933.31 966.71,933.31 966.71,912.76 968.58,912.76 968.58,928.33 970.45,928.33 970.45,943.9 972.32,943.9 972.32,971.3 974.81,971.3 974.81,1021.11 977.3,1021.11 977.3,1002.43 979.17,1002.43 979.17,983.75 981.03,983.75 981.03,958.84 983.52,958.84 983.52,918.99 986.01,918.99 986.01,928.95 987.99,928.95 987.99,938.92 989.96,938.92 989.96,961.33 992.45,961.33 992.45,1003.67 995.44,1003.67 995.44,992.47 997.06,992.47 997.06,981.26 998.68,981.26 998.68,958.84 1001.17,958.84 1001.17,938.92 1003.66,938.92 1003.66,916.5 1004.91,916.5 1004.91,892.84 1007.4,892.84 1007.4,869.18 1008.64,869.18 1008.64,841.78 1011.13,841.78 1011.13,818.12 1012.38,818.12 1012.38,791.97 1014.87,791.97 1014.87,814.38 1016.74,814.38 1016.74,836.8 1018.61,836.8 1018.61,859.22 1021.1,859.22 1021.1,879.14 1023.59,879.14 1023.59,904.05 1026.08,904.05 1026.08,928.95 1028.57,928.95 1028.57,951.37 1031.06,951.37 1031.06,997.45 1033.55,997.45 1033.55,975.65 1035.42,975.65 1035.42,953.86 1037.29,953.86 1037.29,931.44 1039.78,931.44 1039.78,910.27 1041.02,910.27 1041.02,898.44 1042.64,898.44 1042.64,886.61 1044.26,886.61 1044.26,938.92 1047.25,938.92 1047.25,966.31 1049.74,966.31 1049.74,993.71 1052.23,993.71 1052.23,972.54 1054.1,972.54 1054.1,951.37 1055.97,951.37 1055.97,928.95 1058.46,928.95 1058.46,906.54 1060.95,906.54 1060.95,884.12 1063.44,884.12 1063.44,856.72 1065.93,856.72 1065.93,826.84 1067.17,826.84 1067.17,799.44 1068.42,799.44 1068.42,784.5 1070.04,784.5 1070.04,769.55 1071.66,769.55 1071.66,790.72 1073.77,790.72 1073.77,811.89 1075.89,811.89 1075.89,841.78 1078.38,841.78 1078.38,854.23 1080,854.23 1080,866.69 1081.62,866.69 1081.62,839.29 1084.61,839.29 1084.61,816.87 1086.6,816.87 1086.6,793.21 1088.34,793.21 1088.34,767.06 1090.83,767.06 1090.83,795.7 1092.7,795.7 1092.7,824.35 1094.57,824.35 1094.57,881.63 1095.82,881.63 1095.82,936.43 1097.06,936.43 1097.06,993.71 1098.31,993.71 1098.31,1048.51 1100.8,1048.51 1100.8,1018.62 1102.67,1018.62 1102.67,988.73 1104.53,988.73 1104.53,958.84 1107.02,958.84 1107.02,928.95 1109.02,928.95 1109.02,943.9 1112,943.9 1112,962.58 1113.87,962.58 1113.87,981.26 1115.74,981.26 1115.74,998.69 1117.61,998.69 1117.61,1016.13 1119.48,1016.13 1119.48,1002.43 1121.34,1002.43 1121.34,988.73 1123.21,988.73 1123.21,958.84 1124.46,958.84 1124.46,928.95 1126.95,928.95 1126.95,899.07 1128.19,899.07 1128.19,915.26 1130.06,915.26 1130.06,931.44 1131.93,931.44 1131.93,948.88 1134.42,948.88 1134.42,963.82 1136.29,963.82 1136.29,978.77 1138.16,978.77 1138.16,961.33 1140.02,961.33 1140.02,943.9 1141.89,943.9 1141.89,918.99 1143.14,918.99 1143.14,885.37 1144.38,885.37 1144.38,857.97 1146.87,857.97 1146.87,873.54 1148.74,873.54 1148.74,889.1 1150.61,889.1 1150.61,901.56 1152.48,901.56 1152.48,914.01 1154.35,914.01 1154.35,923.97 1156.21,923.97 1156.21,933.94 1158.08,933.94 1158.08,946.39 1159.95,946.39 1159.95,958.84 1161.82,958.84 1161.82,980.64 1164.06,980.64 1164.06,1002.43 1166.3,1002.43 1166.3,976.9 1168.42,976.9 1168.42,951.37 1170.54,951.37 1170.54,923.97 1173.03,923.97 1173.03,901.56 1174.27,901.56 1174.27,875.4 1176.76,875.4 1176.76,888.48 1178.63,888.48 1178.63,901.56 1180.5,901.56 1180.5,925.22 1182.37,925.22 1182.37,948.88 1184.23,948.88 1184.23,932.69 1186.1,932.69 1186.1,916.5 1187.97,916.5 1187.97,895.33 1190.46,895.33 1190.46,869.18 1191.71,869.18 1191.71,844.27 1192.95,844.27 1192.95,818.12 1194.69,818.12 1194.69,831.2 1196.94,831.2 1196.94,844.27 1199.18,844.27 1199.18,861.71 1201.67,861.71 1201.67,879.14 1204.16,879.14 1204.16,854.23 1206.65,854.23 1206.65,829.33 1209.14,829.33 1209.14,804.42 1211.63,804.42 1211.63,754.61 1214.12,754.61 1214.12,777.02 1216.61,777.02 1216.61,799.44 1219.1,799.44 1219.1,810.65 1221.59,810.65 1221.59,821.86 1224.08,821.86 1224.08,835.55 1226.58,835.55 1226.58,849.25 1229.07,849.25 1229.07,860.46 1231.56,860.46 1231.56,871.67 1234.05,871.67 1234.05,895.33 1236.54,895.33 1236.54,918.99 1239.03,918.99 1239.03,951.37 1241.52,951.37 1241.52,921.48 1244.01,921.48 1244.01,894.08 1246.5,894.08 1246.5,866.69 1248.99,866.69 1248.99,839.29 1250.24,839.29 1250.24,810.65 1251.98,810.65 1251.98,821.23 1253.6,821.23 1253.6,831.82 1255.22,831.82 1255.22,840.54 1257.09,840.54 1257.09,849.25 1258.95,849.25 1258.95,870.42 1260.95,870.42 1260.95,844.27 1263.94,844.27 1263.94,819.36 1265.18,819.36 1265.18,794.46 1266.43,794.46 1266.43,764.57 1268.42,764.57 1268.42,739.66 1270.91,739.66 1270.91,804.42 1273.9,804.42 1273.9,864.2 1275.14,864.2 1275.14,928.95 1276.39,928.95 1276.39,993.71 1278.88,993.71 1278.88,977.52 1280.75,977.52 1280.75,961.33 1282.62,961.33 1282.62,933.94 1283.86,933.94 1283.86,909.03 1286.35,909.03 1286.35,882.88 1287.6,882.88 1287.6,854.23 1290.09,854.23 1290.09,867.93 1291.96,867.93 1291.96,881.63 1293.82,881.63 1293.82,909.03 1296.31,909.03 1296.31,926.46 1298.8,926.46 1298.8,940.16 1301.3,940.16 1301.3,953.86 1303.79,953.86 1303.79,967.56 1306.28,967.56 1306.28,981.26 1308.77,981.26 1308.77,948.88 1311.26,948.88 1311.26,921.48 1312.5,921.48 1312.5,869.18 1314.99,869.18 1314.99,835.55 1317.48,835.55 1317.48,851.12 1319.35,851.12 1319.35,866.69 1321.22,866.69 1321.22,879.14 1323.09,879.14 1323.09,891.59 1324.96,891.59 1324.96,900.31 1326.82,900.31 1326.82,909.03 1328.69,909.03 1328.69,936.43 1331.18,936.43 1331.18,947.63 1333.67,947.63 1333.67,958.84 1336.16,958.84 1336.16,968.18 1338.03,968.18 1338.03,977.52 1339.9,977.52 1339.9,986.86 1341.77,986.86 1341.77,996.2 1343.64,996.2 1343.64,1027.33 1346.13,1027.33 1346.13,1009.28 1348,1009.28 1348,991.22 1349.86,991.22 1349.86,956.35 1351.11,956.35 1351.11,918.99 1353.6,918.99 1353.6,885.37 1354.84,885.37 1354.84,892.22 1356.71,892.22 1356.71,899.07 1358.58,899.07 1358.58,906.54 1360.45,906.54 1360.45,914.01 1362.32,914.01 1362.32,931.44 1364.81,931.44 1364.81,896.58 1367.3,896.58 1367.3,861.71 1368.54,861.71 1368.54,824.35 1369.79,824.35 1369.79,806.29 1371.66,806.29 1371.66,788.23 1373.52,788.23 1373.52,811.89 1376.23,811.89 1376.23,834.31 1378.72,834.31 1378.72,845.52 1380.59,845.52 1380.59,856.72 1382.45,856.72 1382.45,876.65 1384.94,876.65 1384.94,885.37 1386.81,885.37 1386.81,894.08 1388.68,894.08 1388.68,907.16 1390.55,907.16 1390.55,920.24 1392.42,920.24 1392.42,894.08 1394.91,894.08 1394.91,864.2 1397.4,864.2 1397.4,835.55 1399.89,835.55 1399.89,806.91 1401.13,806.91 1401.13,778.27 1403.62,778.27 1403.62,792.59 1405.49,792.59 1405.49,806.91 1407.36,806.91 1407.36,820.61 1409.23,820.61 1409.23,834.31 1411.1,834.31 1411.1,844.27 1412.96,844.27 1412.96,854.23 1414.83,854.23 1414.83,866.69 1416.7,866.69 1416.7,879.14 1418.57,879.14 1418.57,895.33 1420.44,895.33 1420.44,911.52 1422.3,911.52 1422.3,895.33 1424.17,895.33 1424.17,879.14 1426.04,879.14 1426.04,844.27 1427.29,844.27 1427.29,809.4 1428.53,809.4 1428.53,773.29 1431.02,773.29 1431.02,791.34 1432.89,791.34 1432.89,809.4 1434.76,809.4 1434.76,824.35 1437.25,824.35 1437.25,839.29 1439.74,839.29 1439.74,854.23 1442.23,854.23 1442.23,869.18 1444.72,869.18 1444.72,881.63 1447.21,881.63 1447.21,894.08 1449.7,894.08 1449.7,909.03 1452.19,909.03 1452.19,923.97 1454.68,923.97 1454.68,935.18 1456.55,935.18 1456.55,946.39 1458.42,946.39 1458.42,955.11 1460.91,955.11 1460.91,963.82 1463.4,963.82 1463.4,988.11 1465.89,988.11 1465.89,1012.39 1468.38,1012.39 1468.38,988.11 1470.25,988.11 1470.25,963.82 1472.12,963.82 1472.12,938.92 1474.61,938.92 1474.61,911.52 1477.1,911.52 1477.1,886.61 1479.09,886.61 1479.09,914.01 1482.08,914.01 1482.08,931.44 1484.57,931.44 1484.57,948.88 1487.06,948.88 1487.06,962.58 1489.55,962.58 1489.55,976.28 1492.04,976.28 1492.04,986.24 1493.87,986.24 1493.87,996.2 1495.7,996.2 1495.7,1006.16 1497.52,1006.16 1497.52,989.98 1499.14,989.98 1499.14,973.79 1500.76,973.79 1500.76,938.92 1502,938.92 1502,909.03 1504.5,909.03 1504.5,872.91 1506.24,872.91 1506.24,885.99 1508.48,885.99 1508.48,899.07 1510.72,899.07 1510.72,910.27 1513.21,910.27 1513.21,921.48 1515.7,921.48 1515.7,932.69 1517.57,932.69 1517.57,943.9 1519.44,943.9 1519.44,968.8 1521.93,968.8 1521.93,991.22 1524.92,991.22 1524.92,978.77 1526.54,978.77 1526.54,966.31 1528.16,966.31 1528.16,938.92 1529.4,938.92 1529.4,911.52 1531.89,911.52 1531.89,884.12 1534.38,884.12 1534.38,856.72 1536.87,856.72 1536.87,824.35 1539.36,824.35 1539.36,794.46 1540.61,794.46 1540.61,764.57 1542.48,764.57 1542.48,734.68 1544.35,734.68 1544.35,750.87 1546.21,750.87 1546.21,767.06 1548.08,767.06 1548.08,780.76 1550.57,780.76 1550.57,794.46 1553.06,794.46 1553.06,809.4 1554.93,809.4 1554.93,824.35 1556.8,824.35 1556.8,840.54 1559.29,840.54 1559.29,856.72 1561.78,856.72 1561.78,870.42 1564.27,870.42 1564.27,884.12 1566.76,884.12 1566.76,897.82 1568.63,897.82 1568.63,911.52 1570.5,911.52 1570.5,926.46 1572.12,926.46 1572.12,941.41 1573.74,941.41 1573.74,911.52 1576.72,911.52 1576.72,877.9 1579.22,877.9 1579.22,846.76 1580.46,846.76 1580.46,816.87 1582.2,816.87 1582.2,830.57 1583.82,830.57 1583.82,844.27 1585.44,844.27 1585.44,852.99 1587.31,852.99 1587.31,861.71 1589.18,861.71 1589.18,875.4 1590.8,875.4 1590.8,889.1 1592.42,889.1 1592.42,856.72 1595.4,856.72 1595.4,826.84 1596.65,826.84 1596.65,796.95 1599.14,796.95 1599.14,767.06 1601.13,767.06 1601.13,782 1603.25,782 1603.25,796.95 1605.37,796.95 1605.37,810.65 1607.24,810.65 1607.24,824.35 1609.1,824.35 1609.1,839.29 1610.97,839.29 1610.97,854.23 1612.84,854.23 1612.84,869.18 1614.71,869.18 1614.71,884.12 1616.58,884.12 1616.58,897.82 1618.44,897.82 1618.44,911.52 1620.31,911.52 1620.31,923.97 1622.18,923.97 1622.18,936.43 1624.05,936.43 1624.05,952.62 1625.92,952.62 1625.92,968.8 1627.78,968.8 1627.78,997.45 1630.27,997.45 1630.27,966.31 1632.76,966.31 1632.76,936.43 1635.26,936.43 1635.26,906.54 1636.5,906.54 1636.5,875.4 1638.99,875.4 1638.99,890.97 1641.48,890.97 1641.48,906.54 1643.97,906.54 1643.97,920.24 1645.97,920.24 1645.97,933.31 1647.71,933.31 1647.71,946.39 1649.45,946.39 1649.45,916.5 1651.44,916.5 1651.44,884.12 1653.94,884.12 1653.94,851.74 1655.18,851.74 1655.18,821.86 1657.67,821.86 1657.67,836.8 1659.54,836.8 1659.54,851.74 1661.41,851.74 1661.41,869.18 1663.9,869.18 1663.9,886.61 1666.39,886.61 1666.39,904.05 1668.26,904.05 1668.26,921.48 1670.12,921.48 1670.12,958.84 1672.62,958.84 1672.62,975.03 1675.11,975.03 1675.11,991.22 1677.6,991.22 1677.6,1007.41 1679.46,1007.41 1679.46,1023.6 1681.33,1023.6 1681.33,1032.73 1683.16,1032.73 1683.16,1041.86 1684.99,1041.86 1684.99,1051 1686.81,1051 1686.81,1038.54 1689.05,1038.54 1689.05,1026.09 1691.3,1026.09 1691.3,991.22 1692.54,991.22 1692.54,961.33 1693.79,961.33 1693.79,931.44 1695.53,931.44 1695.53,946.39 1697.77,946.39 1697.77,961.33 1700.01,961.33 1700.01,966.31 1701.88,966.31 1701.88,971.3 1703.75,971.3 1703.75,989.98 1706.24,989.98 1706.24,956.35 1708.73,956.35 1708.73,923.97 1709.98,923.97 1709.98,889.1 1712.47,889.1 1712.47,854.23 1714.96,854.23 1714.96,831.82 1717.45,831.82 1717.45,819.36 1719.32,819.36 1719.32,806.91 1721.18,806.91 1721.18,771.42 1723.05,771.42 1723.05,735.93 1724.92,735.93 1724.92,762.7 1726.79,762.7 1726.79,789.48 1728.66,789.48 1728.66,801.93 1731.15,801.93 1731.15,814.38 1733.64,814.38 1733.64,829.33 1735.5,829.33 1735.5,844.27 1737.37,844.27 1737.37,856.72 1739.24,856.72 1739.24,869.18 1741.11,869.18 1741.11,879.14 1742.98,879.14 1742.98,889.1 1744.84,889.1 1744.84,904.05 1746.71,904.05 1746.71,918.99 1748.58,918.99 1748.58,943.28 1750.2,943.28 1750.2,967.56 1751.82,967.56 1751.82,941.41 1754.81,941.41 1754.81,916.5 1757.3,916.5 1757.3,886.61 1759.79,886.61 1759.79,839.29 1762.28,839.29 1762.28,861.71 1765.18,861.71 1765.18,875.4 1767.05,875.4 1767.05,889.1 1768.91,889.1 1768.91,917.75 1771.4,917.75 1771.4,891.59 1773.9,891.59 1773.9,864.2 1776.39,864.2 1776.39,841.78 1778.88,841.78 1778.88,790.72 1781.37,790.72 1781.37,810.02 1783.24,810.02 1783.24,829.33 1785.1,829.33 1785.1,851.74 1786.97,851.74 1786.97,874.16 1788.84,874.16 1788.84,886.61 1790.71,886.61 1790.71,899.07 1792.58,899.07 1792.58,911.52 1794.44,911.52 1794.44,923.97 1796.31,923.97 1796.31,936.43 1798.18,936.43 1798.18,948.88 1800.05,948.88 1800.05,966.31 1801.92,966.31 1801.92,983.75 1803.78,983.75 1803.78,1006.16 1806.27,1006.16 1806.27,1028.58 1808.76,1028.58 1808.76,1016.13 1810.63,1016.13 1810.63,1003.67 1812.5,1003.67 1812.5,981.26 1813.75,981.26 1813.75,956.35 1814.99,956.35 1814.99,928.95 1817.48,928.95 1817.48,906.54 1819.47,906.54 1819.47,920.24 1821.59,920.24 1821.59,933.94 1823.71,933.94 1823.71,958.84 1824.95,958.84 1824.95,987.48 1827.94,987.48 1827.94,961.33 1829.94,961.33 1829.94,936.43 1831.18,936.43 1831.18,923.97 1833.05,923.97 1833.05,911.52 1834.92,911.52 1834.92,889.1 1836.16,889.1 1836.16,866.69 1838.65,866.69 1838.65,887.86 1840.52,887.86 1840.52,909.03 1842.39,909.03 1842.39,933.94 1844.88,933.94 1844.88,947.63 1846.75,947.63 1846.75,961.33 1848.62,961.33 1848.62,977.52 1850.48,977.52 1850.48,993.71 1852.35,993.71 1852.35,1016.13 1854.84,1016.13 1854.84,1038.54 1857.33,1038.54 1857.33,1023.6 1859.2,1023.6 1859.2,1008.66 1861.07,1008.66 1861.07,981.26 1863.56,981.26 1863.56,953.86 1864.8,953.86 1864.8,926.46 1866.05,926.46 1866.05,941.41 1867.92,941.41 1867.92,956.35 1869.79,956.35 1869.79,973.79 1871.65,973.79 1871.65,991.22 1873.52,991.22 1873.52,1014.88 1876.01,1014.88 1876.01,1000.56 1877.88,1000.56 1877.88,986.24 1879.75,986.24 1879.75,961.33 1880.99,961.33 1880.99,931.44 1883.48,931.44 1883.48,906.54 1884.73,906.54 1884.73,920.24 1886.6,920.24 1886.6,933.94 1888.47,933.94 1888.47,973.79 1890.96,973.79 1890.96,998.69 1893.45,998.69" clip-path="url(#c1)"/>
<path class="rdd" d="M199.4 1381.75h8.8M205.23 1392.11h8.8M211 1402.51h8.8M215.14 1412.84h8.8M219.27 1423.16h8.8M223.9 1433.27h8.8M227.29 1430.86h8.8M229.19 1420.75h8.8M235.1 1413.05h8.8M242.19 1400.73h8.8M247.62 1390.36h8.8M252.39 1391.42h8.8M256.36 1401.74h8.8M258.24 1412.63h8.8M259.92 1422.72h8.8M261.6 1432.81h8.8M263.41 1437.3h8.8M265.59 1427.16h8.8M269.05 1417.47h8.8M277.38 1412.19h8.8M293.88 1412.19h8.8M305.38 1422.59h8.8M313.44 1425.19h8.8M316.86 1414.92h8.8M321.96 1421.52h8.8M328.18 1431.7h8.8M336.34 1438.82h8.8M352.84 1438.82h8.8M369.34 1438.82h8.8M385.84 1438.82h8.8M390.18 1452.67h8.8M391.49 1462.73h8.8M396.72 1466.34h8.8M408.19 1457.42h8.8M412.05 1447.11h8.8M415.45 1448.61h8.8M418.37 1458.83h8.8M422.34 1467.99h8.8M438.84 1467.99h8.8M455.34 1467.99h8.8M471.84 1467.99h8.8M488.34 1467.99h8.8M498.78 1457.29h8.8M504.99 1446.95h8.8M510.73 1448.91h8.8M516.53 1458.74h8.8M528.85 1466.95h8.8M533.55 1455.44h8.8M536.09 1445.26h8.8M538.83 1435.14h8.8M542.25 1424.86h8.8M545.77 1414.71h8.8M562.16 1413.22h8.8M578.53 1412.68h8.8M592.82 1418.07h8.8M598.86 1428.5h8.8M603 1438.83h8.8M611.13 1433.99h8.8M619 1422.62h8.8M623.75 1413.34h8.8M639.08 1414.79h8.8M645.78 1426.14h8.8M648.5 1436.34h8.8M656.64 1441.63h8.8M665.11 1454.25h8.8M670.46 1461.3h8.8M676.91 1450.97h8.8M684.47 1442.63h8.8M694.16 1452.95h8.8M698.12 1463.45h8.8M700.66 1473.63h8.8M703.63 1483.68h8.8M708.13 1493.67h8.8M721.92 1500.57h8.8M730.9 1511.8h8.8M734.77 1522.11h8.8M741.46 1516.86h8.8M750.17 1506.91h8.8M757.46 1511.04h8.8M763.38 1521.11h8.8M768.83 1510.74h8.8M774.29 1500.37h8.8M779.27 1504.56h8.8M783.25 1515.15h8.8M787.85 1523.79h8.8M804.35 1523.79h8.8M819.29 1522.05h8.8M820.41 1512.01h8.8M821.53 1501.97h8.8M823.84 1509.79h8.8M826.39 1519.97h8.8M828.93 1530.15h8.8M831.48 1540.33h8.8M834.02 1550.51h8.8M838.76 1543.55h8.8M844.42 1533.18h8.8M850.16 1524.72h8.8M855.66 1535.61h8.8M858.21 1545.79h8.8M864.1 1551.69h8.8M880.23 1551.13h8.8M884.94 1540.77h8.8M889.65 1530.41h8.8M896.77 1523.79h8.8M911.83 1521.31h8.8M917.75 1510.95h8.8M923.67 1500.59h8.8M927.98 1504.79h8.8M931.57 1514.81h8.8M939.76 1523.43h8.8M950.21 1514.24h8.8M952.76 1504.06h8.8M960.31 1498.25h8.8M975.62 1495.89h8.8M992.12 1495.89h8.8M1008.62 1495.89h8.8M1024.2 1494.86h8.8M1025.31 1484.82h8.8M1026.43 1474.78h8.8M1032.64 1467.24h8.8M1043.82 1458.29h8.8M1050.78 1445.84h8.8M1057.92 1440.52h8.8M1065.21 1452.88h8.8M1068.28 1463.12h8.8M1073.33 1463.69h8.8M1081.69 1453.65h8.8M1089.57 1462.3h8.8M1096.67 1452.97h8.8M1103.53 1442.67h8.8M1109.08 1448.52h8.8M1113.79 1458.88h8.8M1118.46 1466.72h8.8M1122.77 1456.38h8.8M1128.65 1446.94h8.8M1135.99 1436.6h8.8M1139.23 1426.35h8.8M1142.46 1416.1h8.8M1147.26 1420.39h8.8M1154.19 1430.09h8.8M1163.88 1437.04h8.8M1169.8 1426.68h8.8M1175.73 1416.32h8.8M1184.51 1411.39h8.8M1197.74 1418.02h8.8M1204.31 1428.34h8.8M1210.87 1438.66h8.8M1214.56 1429.92h8.8M1217.34 1419.72h8.8M1222.17 1412.19h8.8M1238.67 1412.19h8.8M1245.63 1399.7h8.8M1248.41 1389.49h8.8M1250.8 1389.38h8.8M1252.73 1399.5h8.8M1254.65 1409.61h8.8M1256.58 1419.73h8.8M1258.51 1429.84h8.8M1260.75 1435.23h8.8M1264.17 1424.96h8.8M1267.6 1414.69h8.8M1271.02 1404.41h8.8M1274.45 1394.14h8.8M1281.18 1385.91h8.8M1294.14 1383.87h8.8M1310.62 1383.26h8.8M1327.1 1382.65h8.8M1343.58 1382.04h8.8M1351.09 1372.97h8.8M1350.85 1362.97h8.8M1355.91 1368.25h8.8M1360 1380h8.8M1361.9 1390.11h8.8M1363.79 1400.22h8.8M1365.69 1410.33h8.8M1367.28 1403.88h8.8M1368.8 1393.8h8.8M1370.31 1383.73h8.8M1371.82 1373.65h8.8M1373.33 1363.58h8.8M1378.8 1367.64h8.8M1385 1379.08h8.8M1394.61 1384.12h8.8M1406.28 1392.68h8.8M1410.15 1402.99h8.8M1414.29 1401.05h8.8M1418.73 1390.7h8.8M1428.72 1386.67h8.8M1439.82 1377.38h8.8M1443.95 1367.06h8.8M1448.52 1360.89h8.8M1455.38 1371.18h8.8M1461.29 1382.02h8.8M1470.38 1380.77h8.8M1474.01 1370.48h8.8M1477.64 1360.19h8.8M1483.18 1370.57h8.8M1488.23 1381.12h8.8M1490.57 1391.28h8.8M1492.92 1401.43h8.8M1495.26 1411.59h8.8M1505.21 1412.19h8.8M1521.27 1414.9h8.8M1531.72 1425.06h8.8M1536.4 1435.12h8.8M1548.29 1431.78h8.8M1552.16 1421.47h8.8M1556.65 1423.08h8.8M1561.83 1433.46h8.8M1567.02 1443.83h8.8M1570.72 1454.75h8.8M1573.26 1464.93h8.8M1576.35 1461.03h8.8M1579.77 1450.76h8.8M1583.2 1440.48h8.8M1586.89 1430.31h8.8M1590.76 1420h8.8M1594.34 1424.93h8.8M1597.26 1435.32h8.8M1598.7 1445.39h8.8M1600.14 1455.46h8.8M1601.58 1465.53h8.8M1604.55 1460.77h8.8M1608.3 1450.47h8.8M1612.05 1440.17h8.8M1616.49 1450.03h8.8M1621.09 1460.38h8.8M1626.05 1455.26h8.8M1631.23 1444.89h8.8M1640.47 1438.57h8.8M1649.27 1426.29h8.8M1655.48 1415.94h8.8M1660.59 1419.33h8.8M1664.72 1429.66h8.8M1669.38 1435.4h8.8M1676.56 1425.15h8.8M1683.73 1414.9h8.8M1694.82 1411.53h8.8M1706.78 1418.03h8.8M1711.71 1428.4h8.8M1716.76 1436.4h8.8M1722.97 1426.05h8.8M1729.18 1415.7h8.8M1738.8 1412.27h8.8M1747.83 1423.57h8.8M1751.7 1433.88h8.8M1760.89 1439.4h8.8M1776 1438.13h8.8M1783.93 1425.85h8.8M1789.37 1416.64h8.8M1799.12 1415.39h8.8M1809.46 1425.15h8.8M1812.38 1435.37h8.8M1815.65 1429.62h8.8M1819.07 1419.35h8.8M1822.82 1420.25h8.8M1828.1 1429.82h8.8M1838.26 1438.77h8.8M1851.34 1446.24h8.8M1854.13 1456.45h8.8M1856.91 1466.65h8.8M1859.71 1476.86h8.8M1862.55 1487.07h8.8M1866.42 1496.11h8.8M1882 1499.45h8.8M1887.18 1509.82h8.8M1892.37 1520.19h8.8" clip-path="url(#c2)"/>
<polyline class="bl b2" points="200,1380.48 229.17,1380.48 231.71,1386.82 232.97,1417.26 235.51,1432.48 236.78,1459.11 278.63,1459.11 286.24,1455.31 315.41,1455.31 317.95,1432.48 319.21,1412.19 321.75,1396.97 323.02,1380.48 350.92,1380.48 353.46,1386.82 361.07,1409.65 407.99,1409.65 410.53,1414.72 415.6,1437.55 420.67,1451.5 456.18,1451.5 463.79,1455.31 504.38,1455.31 506.91,1447.7 514.52,1432.48 543.69,1432.48 552.57,1424.87 580,1424.87 597.76,1424.87 600.29,1432.48 607.9,1478.14 648.48,1478.14 656.09,1461.65 685.26,1461.65 687.8,1437.55 691.6,1417.26 692.87,1405.85 742.33,1405.85 744.87,1412.19 749.94,1461.65 799.4,1461.65 801.94,1470.53 807.01,1511.11 855.21,1511.11 857.74,1516.18 864.08,1528.86 913.54,1528.86 916.08,1516.18 919.89,1498.43 971.88,1498.43 979.02,1484.48 1025.95,1484.48 1029.75,1490.82 1034.83,1525.06 1084.29,1525.06 1091.9,1507.31 1132.48,1507.31 1137.55,1462.92 1141.36,1435.02 1145.16,1432.48 1178.14,1432.48 1188.28,1424.87 1218.72,1424.87 1226.33,1415.99 1261.84,1415.99 1274.52,1423.6 1302.42,1423.6 1306.23,1389.36 1311.3,1351.31 1337.93,1351.31 1343.01,1361.46 1349.35,1376.68 1348.88,1376.68 1386.92,1376.68 1389.46,1384.29 1395.8,1415.99 1432.58,1415.99 1443.99,1427.41 1465.55,1427.41 1468.09,1402.04 1470.63,1348.78 1471.9,1323.41 1509.94,1323.41 1513.75,1336.09 1517.55,1361.46 1521.36,1386.82 1547.99,1386.82 1550.53,1394.43 1558.14,1424.87 1596.18,1424.87 1603.79,1437.55 1608.86,1447.7 1644.38,1447.7 1654.52,1400.77 1653.8,1400.77 1738.77,1400.77 1741.31,1407.11 1747.65,1467.99 1788.23,1467.99 1795.84,1447.7 1826.28,1447.7 1832.62,1390.63 1871.94,1390.63 1874.47,1396.97 1882.08,1460.38 1899.84,1460.38" clip-path="url(#c2)"/>
<polyline class="bl b3" points="208.63,2086.1 215.54,2087.14 223.48,2088.87 231.07,2062.97 240.74,2015.68 251.78,2008.43 263.87,1997.38 279.4,1991.51 289.76,2003.59 300.12,2025 308.75,2054.34 319.11,2056.07 327.74,2100.95 338.09,2102.67 345,2132.02 353.63,2184.49 365.71,2185.53 372.62,2227.99 384.7,2239.04 391.6,2270.11 403.69,2264.93 410.59,2297.73 420.95,2326.04 438.21,2333.98 458.23,2340.89 469.28,2328.11 479.64,2320.17 488.27,2318.45 496.9,2286.68 505.53,2290.83 514.85,2252.16 524.52,2258.03 533.15,2218.33 541.78,2171.72 552.14,2152.73 562.49,2125.11 572.16,2086.45 581.48,2086.45 591.84,2087.83 600.47,2049.16 610.14,2015.68 619.46,2011.19 629.81,1997.38 647.08,1990.47 659.16,2009.46 667.79,2019.82 676.42,2019.13 685.05,2054.34 695.41,2053.65 703.35,2099.91 714.4,2105.44 724.75,2145.83 731.66,2184.49 743.74,2184.49 750.65,2226.27 762.73,2227.99 768.94,2270.11 787.62,2268.39 796.25,2297.73 805.57,2329.49 815.24,2330.53 825.59,2340.89 842.86,2340.89 854.94,2348.48 872.2,2342.61 884.28,2333.98 892.91,2328.8 899.82,2296 911.9,2297.04 920.53,2275.29 929.16,2261.48 939.52,2251.12 948.15,2220.05 956.78,2172.76 967.14,2175.17 975.77,2126.84 987.85,2125.81 994.76,2083.69 1006.84,2083.69 1015.47,2085.41 1024.1,2049.16 1032.73,2033.63 1043.09,2009.46 1053.45,2000.83 1063.8,1990.47 1082.79,1984.26 1093.15,1990.47 1108.68,2012.91 1117.32,2048.13 1127.67,2049.16 1136.3,2091.28 1146.66,2095.77 1155.29,2135.47 1163.23,2173.45 1176,2185.53 1181.87,2226.27 1193.27,2227.99 1201.21,2270.11 1212.25,2268.39 1220.89,2299.46 1231.24,2322.59 1243.33,2328.8 1257.13,2335.02 1269.22,2333.98 1288.21,2315.68 1295.11,2282.2 1305.47,2254.58 1315.82,2250.09 1326.18,2209.7 1333.81,2168.27 1344.17,2147.56 1352.8,2125.11 1362.12,2085.41 1371.78,2086.45 1382.14,2057.79 1389.05,2023.27 1401.13,2018.09 1409.76,2004.97 1427.02,1996.69 1439.11,2007.74 1447.74,2025 1456.37,2061.25 1466.72,2064.7 1477.08,2107.85 1485.71,2132.02 1496.07,2161.36 1504.7,2187.26 1513.33,2226.96 1523.69,2240.77 1531.28,2266.66 1540.95,2263.9 1549.58,2290.83 1558.9,2323.62 1568.57,2330.53 1587.56,2335.71 1597.91,2339.85 1608.27,2332.94 1618.63,2313.27 1634.16,2287.37 1644.52,2246.64 1654.88,2252.85 1665.23,2206.24 1672.14,2169.3 1682.49,2159.64 1691.12,2125.11 1701.48,2086.45 1721.51,2087.14 1729.1,2049.16 1739.46,2015.68 1758.45,1999.11 1776.4,1992.2 1786.06,2009.46 1796.42,2021.55 1803.33,2056.07 1815.41,2057.79 1822.31,2099.22 1834.4,2100.95 1843.03,2123.39 1853.38,2151.01 1860.29,2183.8 1872.37,2211.42 1886.18,2245.95 1893.09,2259.76" clip-path="url(#c3)"/>
<line class="ld" x1="1119.7" y1="203.8" x2="1052.4" y2="319.9"/>
<line class="ld" x1="1538.9" y1="195.7" x2="1588.5" y2="247.3"/>
<line class="ld" x1="1022.1" y1="1352.6" x2="1062.7" y2="1428.7"/>
<line class="ld" x1="1061.5" y1="1532.7" x2="1164.2" y2="1572"/>
<rect class="fr" x="203.8" y="49.7" width="1689.2" height="529.3"/>
<rect class="fr" x="204.3" y="663" width="1689.7" height="524"/>
<rect class="fr" x="204" y="1272.5" width="1694" height="533"/>
<rect class="fr" x="208" y="1899" width="1682" height="525"/>
<text class="t" transform="translate(91.46,73) scale(0.6145,0.6120)" stroke-width="1.96">360</text>
<text class="t" transform="translate(91.84,240.1) scale(0.6058,0.6270)" stroke-width="1.95">240</text>
<text class="t" transform="translate(92.09,423.7) scale(0.6041,0.6255)" stroke-width="1.95">120</text>
<text class="t" transform="translate(121.41,589.2) scale(0.6795,0.6105)" stroke-width="1.86">0</text>
<text class="t" transform="translate(187.87,643.1) scale(0.6654,0.6030)" stroke-width="1.89">0</text>
<text class="t" transform="translate(719.65,644.7) scale(0.5917,0.6060)" stroke-width="2.00">0.3</text>
<text class="t" transform="translate(1288.9,645.1) scale(0.6040,0.6045)" stroke-width="1.99">0.6</text>
<text class="t" transform="translate(1849.04,645.1) scale(0.6209,0.6045)" stroke-width="1.96">0.9</text>
<text class="t" transform="translate(65.3,442.17) rotate(-90) scale(0.6137,0.6767)" stroke-width="1.86">Position /°</text>
<text class="t" transform="translate(1053.94,135.5) scale(0.5760,0.5304)" stroke-width="2.17">Estimated</text>
<text class="t" transform="translate(1067.85,195.9) scale(0.5906,0.5211)" stroke-width="2.16">position</text>
<text class="t" transform="translate(1389.85,97.1) scale(0.5727,0.5482)" stroke-width="2.14">Position from</text>
<text class="t" transform="translate(1459.09,156.9) scale(0.5913,0.5289)" stroke-width="2.15">encoder</text>
<text class="t" transform="translate(108.99,701.9) scale(0.6405,0.5804)" stroke-width="1.97">20</text>
<text class="t" transform="translate(124.69,943.6) scale(0.6583,0.6045)" stroke-width="1.90">0</text>
<text class="t" transform="translate(101.17,1195.1) scale(0.6010,0.5819)" stroke-width="2.03">-20</text>
<text class="t" transform="translate(189.83,1248.5) scale(0.5969,0.6030)" stroke-width="2.00">0</text>
<text class="t" transform="translate(718.06,1247.5) scale(0.6156,0.5834)" stroke-width="2.00">0.3</text>
<text class="t" transform="translate(1288.22,1247.2) scale(0.6260,0.5684)" stroke-width="2.01">0.6</text>
<text class="t" transform="translate(1849.05,1248.5) scale(0.6166,0.5970)" stroke-width="1.98">0.9</text>
<text class="t" transform="translate(72.2,1131.3) rotate(-90) scale(0.6242,0.6511)" stroke-width="1.88">Position error /°</text>
<text class="t" transform="translate(89.52,1297.9) scale(0.6121,0.6030)" stroke-width="1.98">150</text>
<text class="t" transform="translate(89.52,1469.3) scale(0.6121,0.6030)" stroke-width="1.98">100</text>
<text class="t" transform="translate(109.51,1651.9) scale(0.6351,0.6015)" stroke-width="1.94">50</text>
<text class="t" transform="translate(126.22,1826.1) scale(0.6253,0.6015)" stroke-width="1.96">0</text>
<text class="t" transform="translate(193.73,1865.1) scale(0.6488,0.6030)" stroke-width="1.92">0</text>
<text class="t" transform="translate(722.79,1865.8) scale(0.6071,0.5970)" stroke-width="1.99">0.3</text>
<text class="t" transform="translate(1294.51,1865.8) scale(0.6023,0.5970)" stroke-width="2.00">0.6</text>
<text class="t" transform="translate(1855.07,1865.8) scale(0.6115,0.5970)" stroke-width="1.99">0.9</text>
<text class="t" transform="translate(63.8,1683.4) rotate(-90) scale(0.6427,0.6255)" stroke-width="1.89">Speed /rpm</text>
<text class="t" transform="translate(799.56,1345.2) scale(0.6483,0.6008)" stroke-width="1.92">Speed from encoder</text>
<text class="t" transform="translate(1207.34,1599.2) scale(0.6466,0.5837)" stroke-width="1.95">Estimated speed</text>
<text class="t" transform="translate(113.44,1941.7) scale(0.6094,0.6059)" stroke-width="1.97">15</text>
<text class="t" transform="translate(126.22,2179.1) scale(0.6253,0.6015)" stroke-width="1.96">0</text>
<text class="t" transform="translate(102.16,2449.1) scale(0.6023,0.6014)" stroke-width="1.99">-15</text>
<text class="t" transform="translate(196.44,2489.1) scale(0.6465,0.6030)" stroke-width="1.92">0</text>
<text class="t" transform="translate(726.26,2488.4) scale(0.6139,0.5744)" stroke-width="2.02">0.3</text>
<text class="t" transform="translate(1297.05,2488.4) scale(0.6167,0.5744)" stroke-width="2.02">0.6</text>
<text class="t" transform="translate(1858.39,2489.1) scale(0.6055,0.6060)" stroke-width="1.98">0.9</text>
<text class="t" transform="translate(72.2,2364.11) rotate(-90) scale(0.6274,0.6241)" stroke-width="1.92">Phase current/A</text>
<text class="t" transform="translate(964.97,2520.2) scale(0.6273,0.5860)" stroke-width="1.98">Time /s</text>
</svg></body></html>
